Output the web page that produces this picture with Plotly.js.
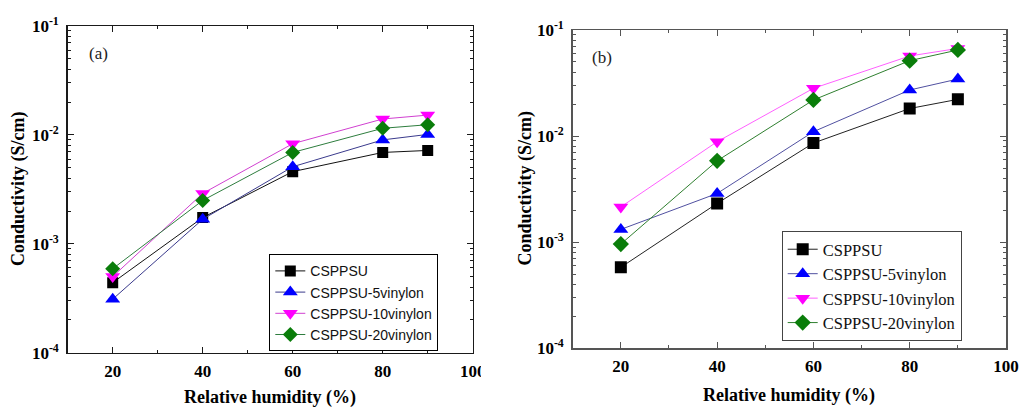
<!DOCTYPE html>
<html>
<head>
<meta charset="utf-8">
<script src="https://cdn.plot.ly/plotly-3.0.1.min.js"></script>
<style>html,body{margin:0;padding:0;background:#fff;} #chart{width:1020px;height:407px;}</style>
</head>
<body>
<div id="chart"></div>
<script>
// ---- data ----
const humidity = [20, 40, 60, 80, 90];
const seriesNames = ['CSPPSU', 'CSPPSU-5vinylon', 'CSPPSU-10vinylon', 'CSPPSU-20vinylon'];
// panel (a)
const a_CSPPSU     = [4.4e-4, 1.74e-3, 4.6e-3, 6.9e-3, 7.2e-3];
const a_5vinylon   = [3.1e-4, 1.68e-3, 5.1e-3, 9.0e-3, 1.01e-2];
const a_10vinylon  = [5.0e-4, 2.9e-3, 8.3e-3, 1.40e-2, 1.52e-2];
const a_20vinylon  = [5.9e-4, 2.5e-3, 6.9e-3, 1.15e-2, 1.24e-2];
// panel (b)
const b_CSPPSU     = [5.8e-4, 2.32e-3, 8.6e-3, 1.82e-2, 2.22e-2];
const b_5vinylon   = [1.32e-3, 2.88e-3, 1.10e-2, 2.72e-2, 3.45e-2];
const b_10vinylon  = [2.15e-3, 8.85e-3, 2.82e-2, 5.69e-2, 6.7e-2];
const b_20vinylon  = [9.6e-4, 5.85e-3, 2.19e-2, 5.14e-2, 6.48e-2];
const yTickVals = [1e-4, 1e-3, 1e-2, 1e-1];
const yTickText = ['10<sup>-4</sup>', '10<sup>-3</sup>', '10<sup>-2</sup>', '10<sup>-1</sup>'];
const xTickVals = [20, 40, 60, 80, 100];

// ---- styles ----
const markerColors = ['#000000', '#0000ff', '#ff00ff', '#0a7d0a'];
const lineColorsA = ['#111111', '#3a3a8c', '#d040d0', '#2e7d3e'];
const lineColorsB = ['#222222', '#5050a0', '#ff60ff', '#2f7f2f'];
const symbols = ['square', 'triangle-up', 'triangle-down', 'diamond'];
const sizesA = [11, 13, 13, 11.5];
const sizesB = [12, 13, 13, 12.5];

const minorVals = [];
for (let e = -4; e <= -2; e++) for (let m = 2; m <= 9; m++) minorVals.push(m * Math.pow(10, e));

const W = 1020, H = 407;
const px = v => v / W, py = v => 1 - v / H;

const dataA = [a_CSPPSU, a_5vinylon, a_10vinylon, a_20vinylon];
const dataB = [b_CSPPSU, b_5vinylon, b_10vinylon, b_20vinylon];

const traces = [];
dataA.forEach((ys, i) => traces.push({
  x: humidity, y: ys, name: seriesNames[i], type: 'scatter', mode: 'lines+markers',
  xaxis: 'x', yaxis: 'y', legend: 'legend',
  line: {color: lineColorsA[i], width: 1},
  marker: {symbol: symbols[i], size: sizesA[i], color: markerColors[i], line: {width: 0}}
}));
dataB.forEach((ys, i) => traces.push({
  x: humidity, y: ys, name: seriesNames[i], type: 'scatter', mode: 'lines+markers',
  xaxis: 'x2', yaxis: 'y2', legend: 'legend2',
  line: {color: lineColorsB[i], width: 1},
  marker: {symbol: symbols[i], size: sizesB[i], color: markerColors[i], line: {width: 0}}
}));

const SERIF = 'Liberation Serif, Times New Roman, serif';
const SANS = 'Liberation Sans, Arial, sans-serif';
const tickFont = {family: SERIF, size: 17, color: '#000', weight: 'bold'};
function xAxis(domain, anchor, lineColor) {
  return {
    domain: domain, anchor: anchor, range: [10, 100], type: 'linear',
    tickmode: 'array', tickvals: xTickVals, ticks: 'inside', ticklen: 6, tickwidth: 1, tickcolor: lineColor,
    minor: {tickmode: 'linear', tick0: 10, dtick: 10, ticks: 'inside', ticklen: 3, tickcolor: lineColor},
    showline: true, linecolor: lineColor, linewidth: 1.5, mirror: 'ticks',
    showgrid: false, zeroline: false, tickfont: tickFont, automargin: false, ticklabelstandoff: 2
  };
}
function yAxis(domain, anchor, lineColor) {
  return {
    domain: domain, anchor: anchor, type: 'log', range: [-4, -1],
    tickmode: 'array', tickvals: yTickVals, ticktext: yTickText,
    ticks: 'inside', ticklen: 6, tickwidth: 1, tickcolor: lineColor,
    minor: {tickmode: 'array', tickvals: minorVals, ticks: 'inside', ticklen: 3, tickcolor: lineColor},
    showline: true, linecolor: lineColor, linewidth: 1.5, mirror: 'ticks',
    showgrid: false, zeroline: false, tickfont: tickFont, automargin: false, ticklabelstandoff: 4
  };
}

const titleFont = {family: SERIF, size: 18, color: '#000', weight: 'bold'};
const labelFont = {family: SERIF, size: 17, color: '#222'};

const layout = {
  width: W, height: H,
  margin: {l: 0, r: 0, t: 0, b: 0},
  paper_bgcolor: '#fff', plot_bgcolor: '#fff',
  font: {family: SERIF},
  showlegend: true,
  xaxis: xAxis([px(67.7), px(472.7)], 'y', '#1a1a1a'),
  yaxis: yAxis([py(352.7), py(26)], 'x', '#1a1a1a'),
  xaxis2: xAxis([px(572.7), px(1006)], 'y2', '#555555'),
  yaxis2: yAxis([py(348.3), py(30)], 'x2', '#555555'),
  legend: {
    x: px(269.3), y: py(254.3), xanchor: 'left', yanchor: 'top',
    bgcolor: '#fff', bordercolor: '#000', borderwidth: 1,
    font: {family: SANS, size: 14, color: '#111'},
    tracegroupgap: 0, itemwidth: 30
  },
  legend2: {
    x: px(781.7), y: py(231), xanchor: 'left', yanchor: 'top',
    bgcolor: '#fff', bordercolor: '#444', borderwidth: 1,
    font: {family: SERIF, size: 16.5, color: '#111'},
    tracegroupgap: 0, itemwidth: 30
  },
  annotations: [
    {text: '(a)', xref: 'paper', yref: 'paper', x: px(98), y: py(54), xanchor: 'center', yanchor: 'middle', showarrow: false, font: labelFont},
    {text: '(b)', xref: 'paper', yref: 'paper', x: px(602), y: py(58), xanchor: 'center', yanchor: 'middle', showarrow: false, font: labelFont},
    {text: 'Relative humidity (%)', xref: 'paper', yref: 'paper', x: px(270), y: py(397), xanchor: 'center', yanchor: 'middle', showarrow: false, font: titleFont},
    {text: 'Relative humidity (%)', xref: 'paper', yref: 'paper', x: px(789), y: py(395), xanchor: 'center', yanchor: 'middle', showarrow: false, font: titleFont},
    {text: 'Conductivity (S/cm)', xref: 'paper', yref: 'paper', x: px(18.5), y: py(188.5), xanchor: 'center', yanchor: 'middle', textangle: -90, showarrow: false, font: titleFont},
    {text: 'Conductivity (S/cm)', xref: 'paper', yref: 'paper', x: px(525), y: py(188.5), xanchor: 'center', yanchor: 'middle', textangle: -90, showarrow: false, font: titleFont}
  ],
  shapes: [
    {type: 'rect', xref: 'paper', yref: 'paper', x0: px(481), x1: px(500), y0: py(385), y1: py(355), fillcolor: '#fff', line: {width: 0}, layer: 'above'}
  ]
};

Plotly.newPlot('chart', traces, layout, {displayModeBar: false, staticPlot: true});
</script>
</body>
</html>
